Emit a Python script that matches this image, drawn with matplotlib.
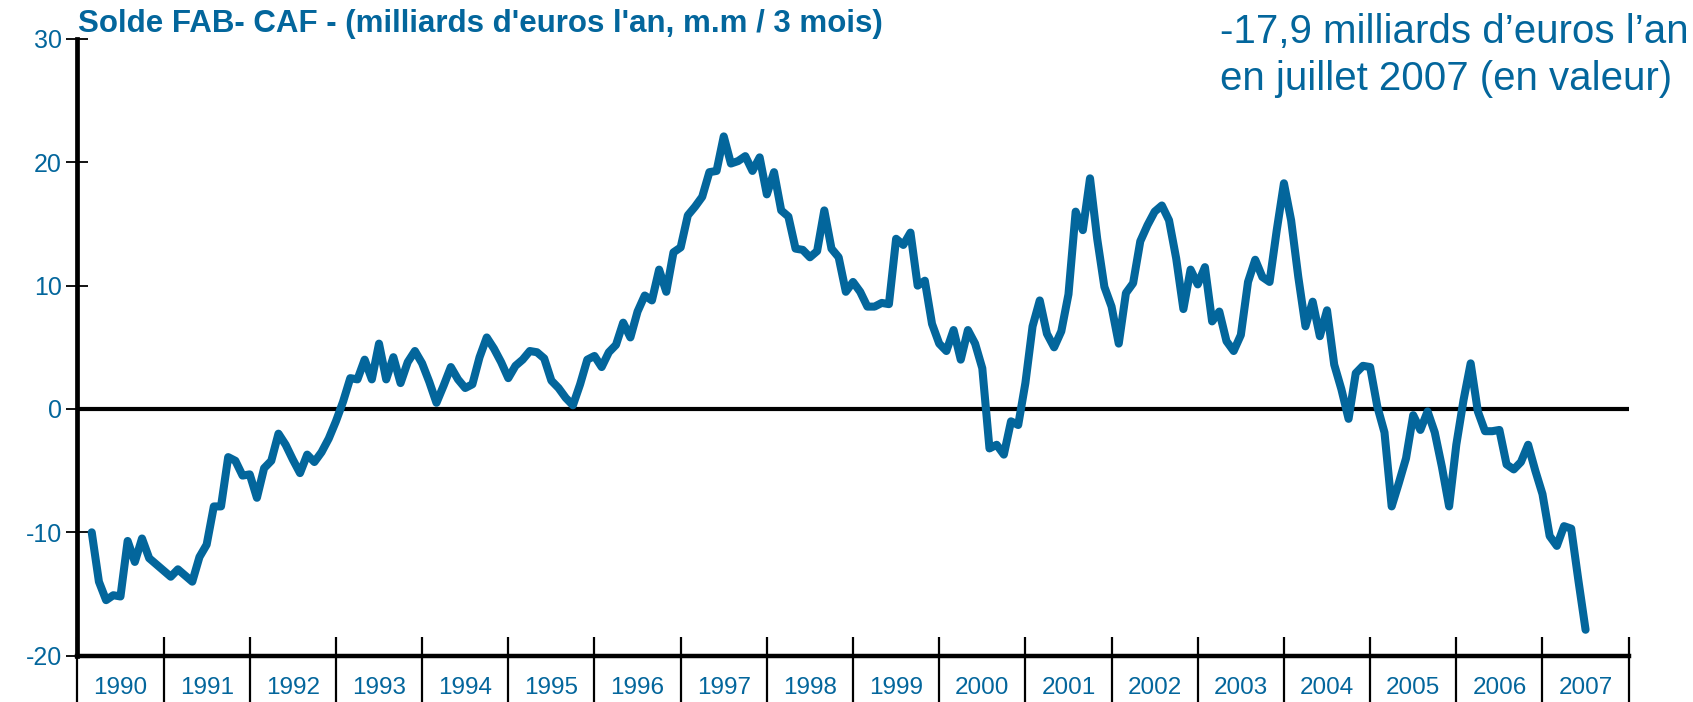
import numpy as np
import pandas as pd
import matplotlib
matplotlib.use("Agg")
import matplotlib.pyplot as plt

# Solde FAB-CAF, milliards d'euros l'an, moyenne mobile 3 mois
first_month = "1990-03"
last_month = "2007-07"
solde = [
    -10.0, -14.0, -15.5, -15.1, -15.2, -10.7, -12.4, -10.5, -12.1, -12.6,            # 1990
    -13.1, -13.6, -13.0, -13.5, -14.0, -12.0, -11.0, -7.9, -7.9, -3.9, -4.2, -5.4,    # 1991
    -5.3, -7.2, -4.8, -4.2, -2.0, -2.9, -4.1, -5.2, -3.7, -4.3, -3.5, -2.4,           # 1992
    -1.0, 0.6, 2.5, 2.4, 4.0, 2.4, 5.3, 2.4, 4.2, 2.1, 3.8, 4.7,                     # 1993
    3.7, 2.2, 0.5, 1.9, 3.4, 2.4, 1.7, 2.0, 4.2, 5.8, 4.9, 3.8,                      # 1994
    2.5, 3.5, 4.0, 4.7, 4.6, 4.1, 2.3, 1.7, 0.9, 0.3, 2.0, 4.0,                      # 1995
    4.3, 3.4, 4.6, 5.2, 7.0, 5.8, 7.9, 9.2, 8.8, 11.3, 9.5, 12.7,                    # 1996
    13.1, 15.7, 16.4, 17.2, 19.2, 19.3, 22.1, 19.9, 20.1, 20.5, 19.3, 20.4,          # 1997
    17.4, 19.2, 16.1, 15.6, 13.0, 12.9, 12.3, 12.8, 16.1, 13.0, 12.3, 9.5,           # 1998
    10.3, 9.5, 8.3, 8.3, 8.6, 8.5, 13.8, 13.3, 14.3, 10.0, 10.4, 6.9,                # 1999
    5.3, 4.7, 6.4, 4.0, 6.4, 5.3, 3.3, -3.2, -2.9, -3.7, -1.0, -1.3,                 # 2000
    2.1, 6.7, 8.8, 6.1, 5.0, 6.3, 9.3, 16.0, 14.5, 18.7, 13.8, 9.9,                  # 2001
    8.3, 5.3, 9.4, 10.2, 13.6, 14.9, 16.0, 16.5, 15.3, 12.2, 8.1, 11.3,              # 2002
    10.1, 11.5, 7.1, 7.9, 5.5, 4.7, 6.0, 10.3, 12.1, 10.7, 10.3, 14.5,               # 2003
    18.3, 15.3, 10.7, 6.7, 8.7, 5.9, 8.0, 3.6, 1.6, -0.8, 2.9, 3.5,                  # 2004
    3.4, 0.2, -1.9, -7.9, -6.0, -4.0, -0.5, -1.7, -0.2, -1.9, -4.7, -7.9,            # 2005
    -2.9, 0.7, 3.7, -0.2, -1.8, -1.8, -1.7, -4.5, -4.9, -4.3, -2.9, -5.0,            # 2006
    -6.9, -10.3, -11.1, -9.5, -9.7, -13.9, -17.9,                                     # 2007
]
years = list(range(1990, 2008))
yticks = [-20, -10, 0, 10, 20, 30]

title = "Solde FAB- CAF - (milliards d'euros l'an, m.m / 3 mois)"
note_1 = "-17,9 milliards d’euros l’an"
note_2 = "en juillet 2007 (en valeur)"

BLUE = "#03669c"
FONT = ["Liberation Sans", "DejaVu Sans"]

dates = pd.date_range(first_month, last_month, freq="MS")
# position = months since January of the first year
x = (dates.year - years[0]) * 12 + (dates.month - 1)

fig = plt.figure(figsize=(16.93, 7.02), dpi=100)
ax = fig.add_axes([0.0457, 0.066, 0.9163, 0.8785])

ax.plot(x, solde, color=BLUE, lw=5.8, solid_joinstyle="round",
        solid_capstyle="round", zorder=3)
ax.axhline(0, color="black", lw=3.0, zorder=2)

ax.set_xlim(0, len(years) * 12)
ax.set_ylim(yticks[0], yticks[-1])

for s in ["top", "right"]:
    ax.spines[s].set_visible(False)
ax.spines["left"].set_linewidth(3.4)
ax.spines["bottom"].set_linewidth(3.2)

# y axis
ax.set_yticks(yticks)
ax.set_yticklabels([str(v) for v in yticks])
ax.tick_params(axis="y", direction="inout", length=16, width=1.3, pad=3,
               labelsize=18, labelcolor=BLUE)
for lab in ax.get_yticklabels():
    lab.set_family(FONT)

# x axis: year boundaries as long ticks, labels centred in each year
bounds = np.arange(len(years) + 1) * 12
ax.set_xticks([])
ax.vlines(bounds, -0.078, 0.03, transform=ax.get_xaxis_transform(),
          color="black", lw=1.6, clip_on=False)
ax.set_xticks(bounds[:-1] + 6, minor=True)
ax.set_xticklabels([str(y) for y in years], minor=True)
ax.tick_params(axis="x", which="minor", length=0, pad=15, labelsize=17.5,
               labelcolor=BLUE)
for lab in ax.get_xticklabels(minor=True):
    lab.set_family(FONT)

fig.text(0.0458, 0.966, title, color=BLUE, fontsize=22.5, fontweight="bold",
         family=FONT, ha="left", va="center")
fig.text(0.7206, 1 - 43 / 702, note_1, color=BLUE, fontsize=29,
         family=FONT, ha="left", va="baseline")
fig.text(0.7206, 1 - 90 / 702, note_2, color=BLUE, fontsize=29,
         family=FONT, ha="left", va="baseline")

fig.savefig("out.png", dpi=100)
